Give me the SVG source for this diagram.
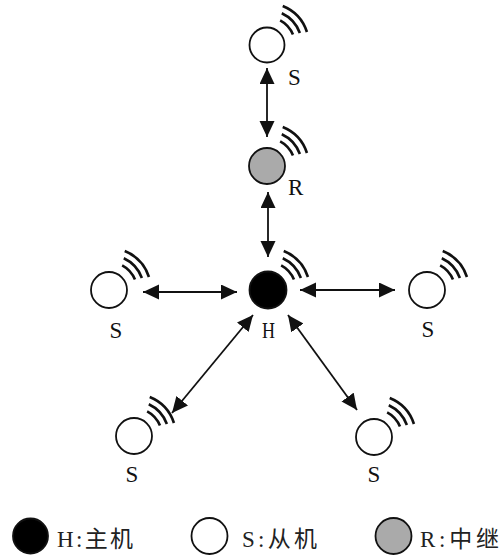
<svg xmlns="http://www.w3.org/2000/svg" xmlns:xlink="http://www.w3.org/1999/xlink" width="501" height="558" viewBox="0 0 501 558">
<style>
.node{stroke:#111;stroke-width:1.8}
.s{fill:#fff}
.h{fill:#000}
.r{fill:#aaaaaa}
.wave{fill:none;stroke:#111;stroke-width:2.6}
.lbl{font-family:"Liberation Serif","Times New Roman",serif;font-size:23px;fill:#111}
.leg{font-family:"Liberation Serif","Noto Sans CJK SC",serif;font-size:23px;fill:#222}
.conn{stroke:#111;stroke-width:1.8;fill:none;marker-start:url(#ah);marker-end:url(#ah)}
</style>
<defs>
<marker id="ah" markerUnits="userSpaceOnUse" markerWidth="17" markerHeight="16" refX="16" refY="7.5" orient="auto-start-reverse" viewBox="0 0 17 16">
<path d="M0,0 L16,7.5 L0,15 z" fill="#111"/>
</marker>
<g id="waves">
<path class="wave" d="M13.15,-24.72 A28 28 0 0 1 25.96,-10.49"/>
<path class="wave" d="M14.79,-31.72 A35 35 0 0 1 32.89,-11.97"/>
<path class="wave" d="M15.73,-38.94 A42 42 0 0 1 39.95,-12.98"/>
</g>
</defs>
<rect width="501" height="558" fill="#fff"/>
<g id="connectors">
<line class="conn" x1="267" y1="68" x2="267" y2="137"/>
<line class="conn" x1="268" y1="192" x2="268" y2="257"/>
<line class="conn" x1="143" y1="292" x2="237" y2="292"/>
<line class="conn" x1="300" y1="290" x2="395" y2="290"/>
<line class="conn" x1="253" y1="315" x2="172" y2="413"/>
<line class="conn" x1="288" y1="315" x2="357" y2="410"/>
</g>
<g id="node-s-top">
<circle class="node s" cx="267" cy="45" r="17.5"/>
<use xlink:href="#waves" transform="translate(267,45)"/>
<text class="lbl" x="288" y="85">S</text>
</g>
<g id="node-r">
<circle class="node r" cx="267" cy="166" r="18"/>
<use xlink:href="#waves" transform="translate(267,166)"/>
<text class="lbl" x="288" y="195">R</text>
</g>
<g id="node-h">
<circle class="node h" cx="268" cy="290" r="18.5"/>
<use xlink:href="#waves" transform="translate(268,290)"/>
<text class="lbl" x="262" y="338" textLength="13" lengthAdjust="spacingAndGlyphs">H</text>
</g>
<g id="node-s-left">
<circle class="node s" cx="109" cy="290" r="18"/>
<use xlink:href="#waves" transform="translate(109,290)"/>
<text class="lbl" x="116" y="338" text-anchor="middle">S</text>
</g>
<g id="node-s-right">
<circle class="node s" cx="427" cy="290" r="18"/>
<use xlink:href="#waves" transform="translate(427,290)"/>
<text class="lbl" x="428" y="337" text-anchor="middle">S</text>
</g>
<g id="node-s-lowleft">
<circle class="node s" cx="134" cy="436" r="18"/>
<use xlink:href="#waves" transform="translate(134,436)"/>
<text class="lbl" x="132" y="482" text-anchor="middle">S</text>
</g>
<g id="node-s-lowright">
<circle class="node s" cx="374" cy="437" r="18"/>
<use xlink:href="#waves" transform="translate(374,437)"/>
<text class="lbl" x="374" y="482" text-anchor="middle">S</text>
</g>
<g id="legend">
<circle class="node h" cx="30.5" cy="536" r="17.5"/>
<text class="leg" x="57" y="547" textLength="76" lengthAdjust="spacing">H:主机</text>
<circle class="node s" cx="209.5" cy="536" r="18"/>
<text class="leg" x="242" y="547" textLength="75" lengthAdjust="spacing">S:从机</text>
<circle class="node r" cx="393.5" cy="536" r="18"/>
<text class="leg" x="420" y="547" textLength="79" lengthAdjust="spacing">R:中继</text>
</g>
</svg>
